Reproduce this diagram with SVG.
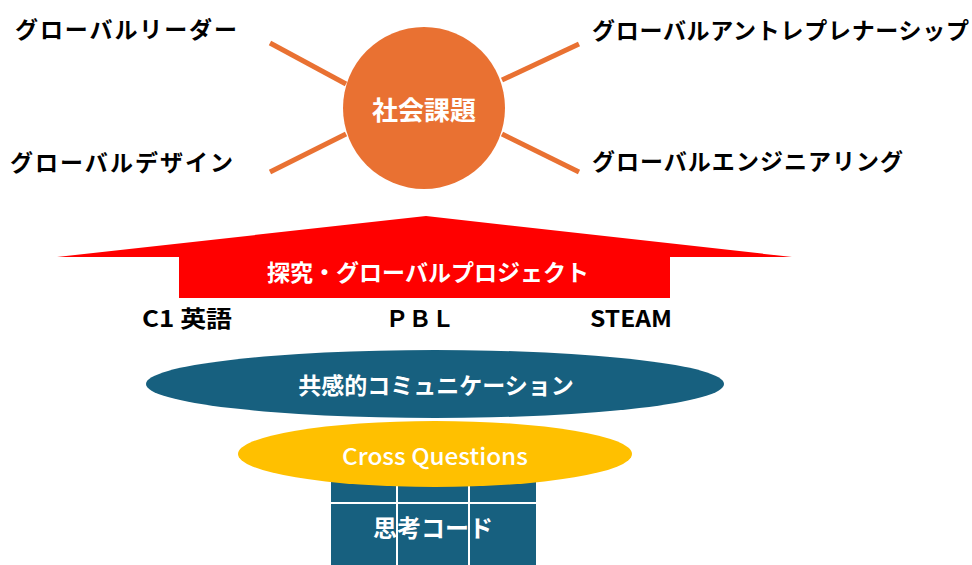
<svg xmlns="http://www.w3.org/2000/svg" width="972" height="565" viewBox="0 0 972 565">
<style>
.lbl{font-family:"Noto Sans CJK JP","Liberation Sans",sans-serif;font-weight:bold;font-size:23px;fill:#000}
.wt{font-family:"Noto Sans CJK JP","Liberation Sans",sans-serif;font-weight:bold;fill:#fff;text-anchor:middle;dominant-baseline:central}
.bt{font-family:"Noto Sans CJK JP","Liberation Sans",sans-serif;font-weight:bold;font-size:23px;fill:#000;dominant-baseline:central}
.conn{stroke:#E97132;stroke-width:5;fill:none}
.grid{stroke:#fff;stroke-width:2}
</style>
<rect width="972" height="565" fill="#fff"/>
<g id="connectors">
<line class="conn" x1="270" y1="43" x2="346" y2="84"/>
<line class="conn" x1="270" y1="172" x2="346" y2="134"/>
<line class="conn" x1="502" y1="80" x2="579" y2="44"/>
<line class="conn" x1="502" y1="134" x2="579" y2="172"/>
</g>
<g id="social-issue">
<circle cx="424" cy="108" r="81" fill="#E97132"/>
<text class="wt" x="424" y="108" font-size="26">社会課題</text>
</g>
<g id="global-leader"><text class="lbl" x="15" y="28" dominant-baseline="central" textLength="222">グローバルリーダー</text></g>
<g id="global-design"><text class="lbl" x="10" y="161" dominant-baseline="central" textLength="223">グローバルデザイン</text></g>
<g id="global-entrepreneurship"><text class="lbl" x="592" y="29" dominant-baseline="central" textLength="377">グローバルアントレプレナーシップ</text></g>
<g id="global-engineering"><text class="lbl" x="592" y="160" dominant-baseline="central" textLength="311">グローバルエンジニアリング</text></g>
<g id="project-arrow">
<polygon points="57,257 426,216 792,257 670,257 670,298 179,298 179,257" fill="#FF0000"/>
<text class="wt" x="428" y="271" font-size="23">探究・グローバルプロジェクト</text>
</g>
<g id="c1-english"><text class="bt" x="142" y="317" textLength="90" lengthAdjust="spacingAndGlyphs">C1 英語</text></g>
<g id="pbl"><text class="bt" x="420" y="317" font-size="21" text-anchor="middle">ＰＢＬ</text></g>
<g id="steam"><text class="bt" x="590" y="317" textLength="82" lengthAdjust="spacingAndGlyphs">STEAM</text></g>
<g id="thinking-code">
<rect x="331" y="465" width="205" height="100" fill="#17607F"/>
<line class="grid" x1="397" y1="480" x2="397" y2="565"/>
<line class="grid" x1="469" y1="480" x2="469" y2="565"/>
<line class="grid" x1="331" y1="503" x2="536" y2="503"/>
<text class="wt" x="433" y="526" font-size="24">思考コード</text>
</g>
<g id="empathetic-communication">
<ellipse cx="435" cy="384" rx="289" ry="34" fill="#17607F"/>
<text class="wt" x="436" y="384" font-size="23">共感的コミュニケーション</text>
</g>
<g id="cross-questions">
<ellipse cx="435" cy="454" rx="197" ry="33" fill="#FFC000"/>
<text class="wt" x="435" y="455" font-size="23" style="font-weight:500" textLength="186" lengthAdjust="spacingAndGlyphs">Cross Questions</text>
</g>
</svg>
